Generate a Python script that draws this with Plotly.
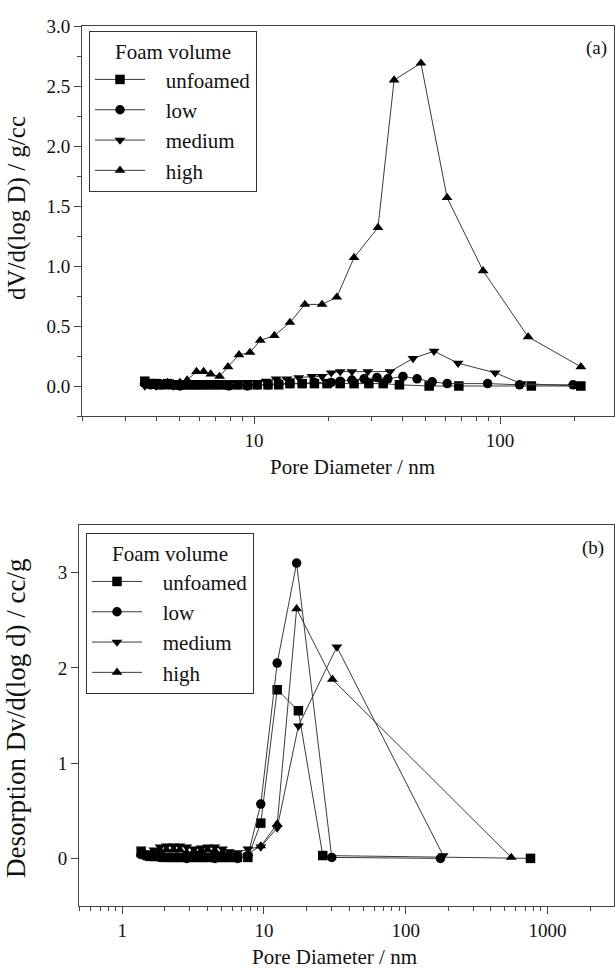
import plotly.graph_objects as go
import math

# ---------------- Panel (a) data ----------------
a_unfoamed_x = [3.6, 3.8, 4.0, 4.2, 4.45, 4.7, 5.0, 5.3, 5.65, 6.0, 6.4, 6.85, 7.35, 7.9, 8.6, 9.4,
                10.3, 11.4, 12.6, 14.0, 15.7, 17.6, 19.8, 22.4, 25.5, 29.3, 33.5, 39.0, 51.5, 68.0, 134, 213]
a_unfoamed_y = [0.04, 0.02, 0.02, 0.01, 0.02, 0.01, 0.01, 0.01, 0.01, 0.01, 0.01, 0.01, 0.01, 0.01, 0.01, 0.01,
                0.01, 0.01, 0.01, 0.02, 0.02, 0.02, 0.02, 0.02, 0.02, 0.02, 0.02, 0.01, 0.0, 0.0, 0.0, 0.0]

a_low_x = [3.6, 3.8, 4.0, 4.2, 4.45, 4.7, 5.0, 5.3, 5.65, 6.0, 6.4, 6.85, 7.35, 7.9, 8.6, 9.4,
           10.3, 11.4, 12.6, 14.0, 15.7, 17.6, 20.6, 22.4, 25.0, 28.0, 31.6, 35.0, 40.3, 46.0, 53.0,
           61.0, 89.0, 120, 198]
a_low_y = [0.02, 0.01, 0.01, 0.01, 0.01, 0.01, 0.0, 0.01, 0.01, 0.01, 0.01, 0.01, 0.01, 0.0, 0.01, 0.0,
           0.01, 0.01, 0.02, 0.02, 0.02, 0.03, 0.03, 0.04, 0.05, 0.06, 0.07, 0.06, 0.08, 0.06, 0.035,
           0.02, 0.02, 0.01, 0.01]

a_medium_x = [3.6, 3.8, 4.0, 4.2, 4.45, 4.7, 5.0, 5.3, 5.65, 6.0, 6.4, 6.85, 7.35, 7.9, 8.6, 9.4,
              10.3, 11.2, 12.3, 13.6, 15.2, 17.2, 18.9, 20.6, 22.4, 25.0, 29.0, 35.7, 44.3, 53.9,
              67.5, 95.5, 122, 207]
a_medium_y = [0.0, 0.01, 0.0, 0.01, 0.01, 0.0, 0.01, 0.01, 0.01, 0.01, 0.02, 0.02, 0.02, 0.02, 0.02, 0.03,
              0.03, 0.04, 0.06, 0.06, 0.07, 0.08, 0.08, 0.11, 0.12, 0.12, 0.12, 0.12, 0.23, 0.29,
              0.19, 0.11, 0.02, 0.0]

a_high_x = [3.6, 3.8, 4.0, 4.2, 4.45, 4.7, 5.0, 5.35, 5.84, 6.24, 6.67, 7.25, 7.84, 8.69, 9.63,
            10.6, 12.1, 14.0, 16.1, 18.9, 21.7, 25.5, 31.9, 37.1, 47.7, 60.9, 85.3, 130, 213]
a_high_y = [0.02, 0.01, 0.02, 0.02, 0.03, 0.02, 0.03, 0.05, 0.12, 0.12, 0.10, 0.08, 0.16, 0.26, 0.28,
            0.38, 0.42, 0.53, 0.68, 0.68, 0.74, 1.07, 1.32, 2.55, 2.69, 1.57, 0.96, 0.41, 0.16]

# ---------------- Panel (b) data ----------------
b_unfoamed_x = [1.36, 1.5, 1.67, 1.85, 2.05, 2.3, 2.55, 2.85, 3.2, 3.6, 4.0, 4.5, 5.1, 5.7, 6.5, 7.7,
                9.5, 12.4, 17.5, 26.0, 760]
b_unfoamed_y = [0.06, 0.03, 0.02, 0.02, 0.01, 0.01, 0.01, 0.01, 0.01, 0.01, 0.01, 0.01, 0.01, 0.01, 0.01, 0.01,
                0.37, 1.77, 1.55, 0.03, 0.0]

b_low_x = [1.36, 1.5, 1.67, 1.85, 2.05, 2.3, 2.55, 2.85, 3.2, 3.6, 4.0, 4.5, 5.1, 5.7, 6.5, 7.7,
           9.5, 12.4, 17.0, 30.1, 176]
b_low_y = [0.04, 0.02, 0.02, 0.01, 0.01, 0.01, 0.01, 0.0, 0.01, 0.01, 0.01, 0.0, 0.01, 0.01, 0.0, 0.03,
           0.57, 2.05, 3.10, 0.01, 0.0]

b_medium_x = [1.36, 1.5, 1.67, 1.85, 2.05, 2.3, 2.55, 2.85, 3.2, 3.6, 4.0, 4.5, 5.1, 5.7, 6.5, 7.7,
              9.5, 12.4, 17.5, 32.7, 184]
b_medium_y = [0.10, 0.06, 0.09, 0.12, 0.13, 0.13, 0.13, 0.12, 0.10, 0.11, 0.12, 0.12, 0.10, 0.07, 0.06, 0.10,
              0.12, 0.32, 1.39, 2.22, 0.03]

b_high_x = [1.36, 1.5, 1.67, 1.85, 2.05, 2.3, 2.55, 2.85, 3.2, 3.6, 4.0, 4.5, 5.1, 5.7, 6.5, 7.7,
            9.5, 12.4, 17.0, 30.4, 556]
b_high_y = [0.05, 0.03, 0.06, 0.08, 0.09, 0.09, 0.09, 0.06, 0.07, 0.08, 0.09, 0.08, 0.06, 0.03, 0.03, 0.05,
            0.13, 0.36, 2.62, 1.88, 0.01]

series_names = ["unfoamed", "low", "medium", "high"]
symbols = ["square", "circle", "triangle-down", "triangle-up"]
panel_a = [(a_unfoamed_x, a_unfoamed_y), (a_low_x, a_low_y), (a_medium_x, a_medium_y), (a_high_x, a_high_y)]
panel_b = [(b_unfoamed_x, b_unfoamed_y), (b_low_x, b_low_y), (b_medium_x, b_medium_y), (b_high_x, b_high_y)]

W, H = 615, 969
FONT = "Liberation Serif"
LINE_C = "#3a3a3a"
PAD = "\u00a0\u00a0\u00a0"  # spacing between legend symbol and label

fig = go.Figure()

for i, (name, sym) in enumerate(zip(series_names, symbols)):
    xs, ys = panel_a[i]
    fig.add_trace(go.Scatter(x=xs, y=ys, name=PAD + name, mode="lines+markers",
                             line=dict(color=LINE_C, width=1),
                             marker=dict(symbol=sym, size=9.5, color="black"),
                             xaxis="x", yaxis="y", legend="legend", legendgroup="a" + name))
for i, (name, sym) in enumerate(zip(series_names, symbols)):
    xs, ys = panel_b[i]
    fig.add_trace(go.Scatter(x=xs, y=ys, name=PAD + name, mode="lines+markers",
                             line=dict(color=LINE_C, width=1),
                             marker=dict(symbol=sym, size=9.5, color="black"),
                             xaxis="x2", yaxis="y2", legend="legend2", legendgroup="b" + name))

def px_x(p):
    return p / W

def px_y(p):
    return 1 - p / H

tickfont = dict(family=FONT, size=19, color="#111")

def log_minor(lo, hi):
    vals = []
    d = lo
    while d <= hi:
        for m in range(2, 10):
            vals.append(m * 10 ** d)
        d += 1
    return vals

axis_common = dict(showline=True, linecolor="#444", linewidth=1, mirror=True, showgrid=False,
                   zeroline=False, ticks="outside", ticklen=7, tickcolor="#444", tickfont=tickfont,
                   automargin=False)

legend_common = dict(xanchor="left", yanchor="top", bordercolor="#333", borderwidth=1, bgcolor="white",
                     title=dict(text="Foam volume", side="top center", font=dict(family=FONT, size=21)),
                     font=dict(family=FONT, size=21), traceorder="grouped", tracegroupgap=0,
                     itemwidth=50)

fig.update_layout(
    width=W, height=H,
    margin=dict(l=0, r=0, t=0, b=0, autoexpand=False),
    paper_bgcolor="white", plot_bgcolor="white",
    font=dict(family=FONT, color="#111"),
    xaxis=dict(domain=[px_x(82), px_x(614)], type="log", range=[math.log10(2), 2.463],
               tickvals=[10, 100], ticktext=["10", "100"], anchor="y",
               minor=dict(tickvals=log_minor(0, 2), ticks="outside", ticklen=4, tickcolor="#444"),
               **axis_common),
    yaxis=dict(domain=[px_y(416), px_y(26)], range=[-0.25, 3.0], dtick=0.5, tick0=0,
               tickformat=".1f", anchor="x",
               minor=dict(dtick=0.25, tick0=0, ticks="outside", ticklen=4, tickcolor="#444"),
               **axis_common),
    xaxis2=dict(domain=[px_x(79), px_x(614)], type="log", range=[-0.305, 3.47],
                tickvals=[1, 10, 100, 1000], ticktext=["1", "10", "100", "1000"], anchor="y2",
                minor=dict(tickvals=log_minor(-1, 3), ticks="outside", ticklen=4, tickcolor="#444"),
                **axis_common),
    yaxis2=dict(domain=[px_y(906), px_y(525)], range=[-0.5, 3.5], tickvals=[0, 1, 2, 3],
                anchor="x2", **axis_common),
    legend=dict(x=px_x(89), y=px_y(31), **legend_common),
    legend2=dict(x=px_x(86), y=px_y(533), **legend_common),
    showlegend=True,
)

ann_font = dict(family=FONT, size=21, color="#111")
annotations = [
    dict(text="(a)", x=px_x(596), y=px_y(48), showarrow=False, font=dict(family=FONT, size=19, color="#111")),
    dict(text="(b)", x=px_x(593), y=px_y(548), showarrow=False, font=dict(family=FONT, size=19, color="#111")),
    dict(text="dV/d(log D) / g/cc", x=px_x(17), y=px_y(208), textangle=-90, showarrow=False,
         font=dict(family=FONT, size=25, color="#111")),
    dict(text="Desorption Dv/d(log d) / cc/g", x=px_x(16), y=px_y(719), textangle=-90, showarrow=False,
         font=dict(family=FONT, size=27, color="#111")),
    dict(text="Pore Diameter / nm", x=px_x(352), y=px_y(467), showarrow=False, font=ann_font),
    dict(text="Pore Diameter / nm", x=px_x(334), y=px_y(957), showarrow=False, font=ann_font),
]
for a in annotations:
    a.update(xref="paper", yref="paper", xanchor="center", yanchor="middle")
fig.update_layout(annotations=annotations)

fig.write_html("out.html", config={"displayModeBar": False},
               post_script="document.body.style.margin='0';document.body.style.overflow='hidden';"
                           "document.documentElement.style.overflow='hidden';")
